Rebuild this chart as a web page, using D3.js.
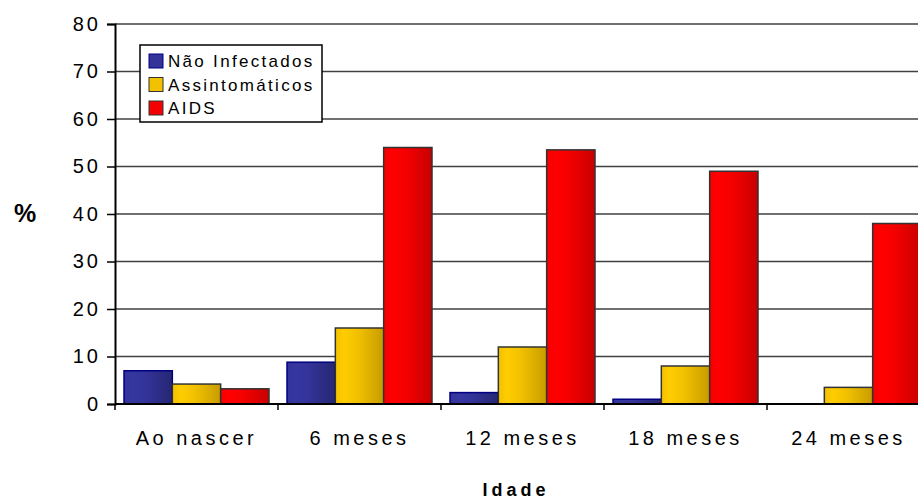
<!DOCTYPE html>
<html>
<head>
<meta charset="utf-8">
<script src="https://cdn.jsdelivr.net/npm/d3@7"></script>
<style>
html,body{margin:0;padding:0;background:#fff;}
svg{display:block;}
text{font-family:"Liberation Sans",Arial,sans-serif;fill:#000;}
</style>
</head>
<body>
<svg id="chart" width="918" height="500"></svg>
<script>
const categories = ["Ao nascer", "6 meses", "12 meses", "18 meses", "24 meses"];
const seriesNames = ["Não Infectados", "Assintomáticos", "AIDS"];
const naoInfectados = [7, 8.8, 2.4, 1.0, 0];
const assintomaticos = [4.2, 16, 12, 8, 3.5];
const aids = [3.2, 54, 53.5, 49, 38];
const yTicks = [0, 10, 20, 30, 40, 50, 60, 70, 80];

const seriesValues = [naoInfectados, assintomaticos, aids];
const colors = [
  {light:"#3636a0", mid:"#333399", dark:"#262673", stroke:"#000080"},
  {light:"#ffcc00", mid:"#f2c200", dark:"#c89c00", stroke:"#333333"},
  {light:"#ff0000", mid:"#f50000", dark:"#c80000", stroke:"#333333"}
];

const svg = d3.select("#chart");
const pLeft = 115, pRight = 930, pTop = 24, pBottom = 404;

const x = d3.scaleBand().domain(categories).range([pLeft, pRight]).paddingInner(0).paddingOuter(0);
const xs = d3.scaleBand().domain(d3.range(3)).range([9, x.bandwidth() - 9]).padding(0);
const y = d3.scaleLinear().domain([0, 80]).range([pBottom, pTop]);

// gradients
const defs = svg.append("defs");
colors.forEach((c, i) => {
  const g = defs.append("linearGradient").attr("id", "g" + i)
    .attr("x1", "0%").attr("x2", "100%").attr("y1", "0%").attr("y2", "0%");
  g.append("stop").attr("offset", "0%").attr("stop-color", c.mid);
  g.append("stop").attr("offset", "18%").attr("stop-color", c.light);
  g.append("stop").attr("offset", "45%").attr("stop-color", c.mid);
  g.append("stop").attr("offset", "100%").attr("stop-color", c.dark);
});

// gridlines
svg.append("g").selectAll("line").data(yTicks.filter(t => t > 0)).join("line")
  .attr("x1", pLeft).attr("x2", 918)
  .attr("y1", d => y(d)).attr("y2", d => y(d))
  .attr("stroke", "#404040").attr("stroke-width", 1.5);

// bars
const groups = svg.append("g").selectAll("g").data(categories).join("g")
  .attr("transform", d => `translate(${x(d)},0)`);
groups.each(function(cat, ci) {
  d3.select(this).selectAll("rect").data(seriesValues.map((s, si) => ({si, v: s[ci]}))).join("rect")
    .attr("x", d => xs(d.si))
    .attr("width", xs.bandwidth())
    .attr("y", d => y(d.v))
    .attr("height", d => y(0) - y(d.v))
    .attr("fill", d => `url(#g${d.si})`)
    .attr("stroke", d => colors[d.si].stroke)
    .attr("stroke-width", 1.5);
});

// y axis
const yAxis = svg.append("g").attr("transform", `translate(${pLeft},0)`)
  .call(d3.axisLeft(y).tickValues(yTicks).tickSize(8).tickPadding(8));
yAxis.select(".domain").attr("stroke", "#000").attr("stroke-width", 2);
yAxis.selectAll(".tick line").attr("stroke", "#000").attr("stroke-width", 1.5);
yAxis.selectAll(".tick text").attr("font-size", 20).attr("letter-spacing", "3px")
  .attr("font-family", "Liberation Sans, Arial, sans-serif").attr("fill", "#000")
  .attr("x", -14);

// x axis
const xAxis = svg.append("g").attr("transform", `translate(0,${pBottom})`)
  .call(d3.axisBottom(x).tickSize(0).tickPadding(0));
xAxis.select(".domain").remove();
svg.append("line").attr("x1", pLeft).attr("x2", 918).attr("y1", pBottom).attr("y2", pBottom)
  .attr("stroke", "#000").attr("stroke-width", 2);
svg.append("g").selectAll("line").data(categories).join("line")
  .attr("x1", d => x(d)).attr("x2", d => x(d))
  .attr("y1", pBottom).attr("y2", pBottom + 6)
  .attr("stroke", "#000").attr("stroke-width", 1.5);
xAxis.selectAll(".tick text").attr("font-size", 20).attr("letter-spacing", "3.5px")
  .attr("font-family", "Liberation Sans, Arial, sans-serif").attr("fill", "#000")
  .attr("dy", null).attr("y", 41).attr("dx", 0);

// axis titles
svg.append("text").attr("x", 25).attr("y", 222).attr("text-anchor", "middle")
  .attr("font-size", 25).attr("font-weight", "bold").text("%");
svg.append("text").attr("x", 516).attr("y", 496).attr("text-anchor", "middle")
  .attr("font-size", 18).attr("font-weight", "bold").attr("letter-spacing", "4px").text("Idade");

// legend
const lg = svg.append("g");
lg.append("rect").attr("x", 140).attr("y", 45).attr("width", 182).attr("height", 77)
  .attr("fill", "#fff").attr("stroke", "#000").attr("stroke-width", 1.5);
const rows = lg.selectAll("g").data(seriesNames).join("g")
  .attr("transform", (d, i) => `translate(149,${61 + i * 23.5})`);
rows.append("rect").attr("x", 0).attr("y", -7).attr("width", 14).attr("height", 14)
  .attr("fill", (d, i) => colors[i].mid).attr("stroke", (d, i) => colors[i].stroke).attr("stroke-width", 1);
rows.append("text").attr("x", 19).attr("y", 6).attr("font-size", 17).attr("letter-spacing", "2.3px").text(d => d);
</script>
</body>
</html>
